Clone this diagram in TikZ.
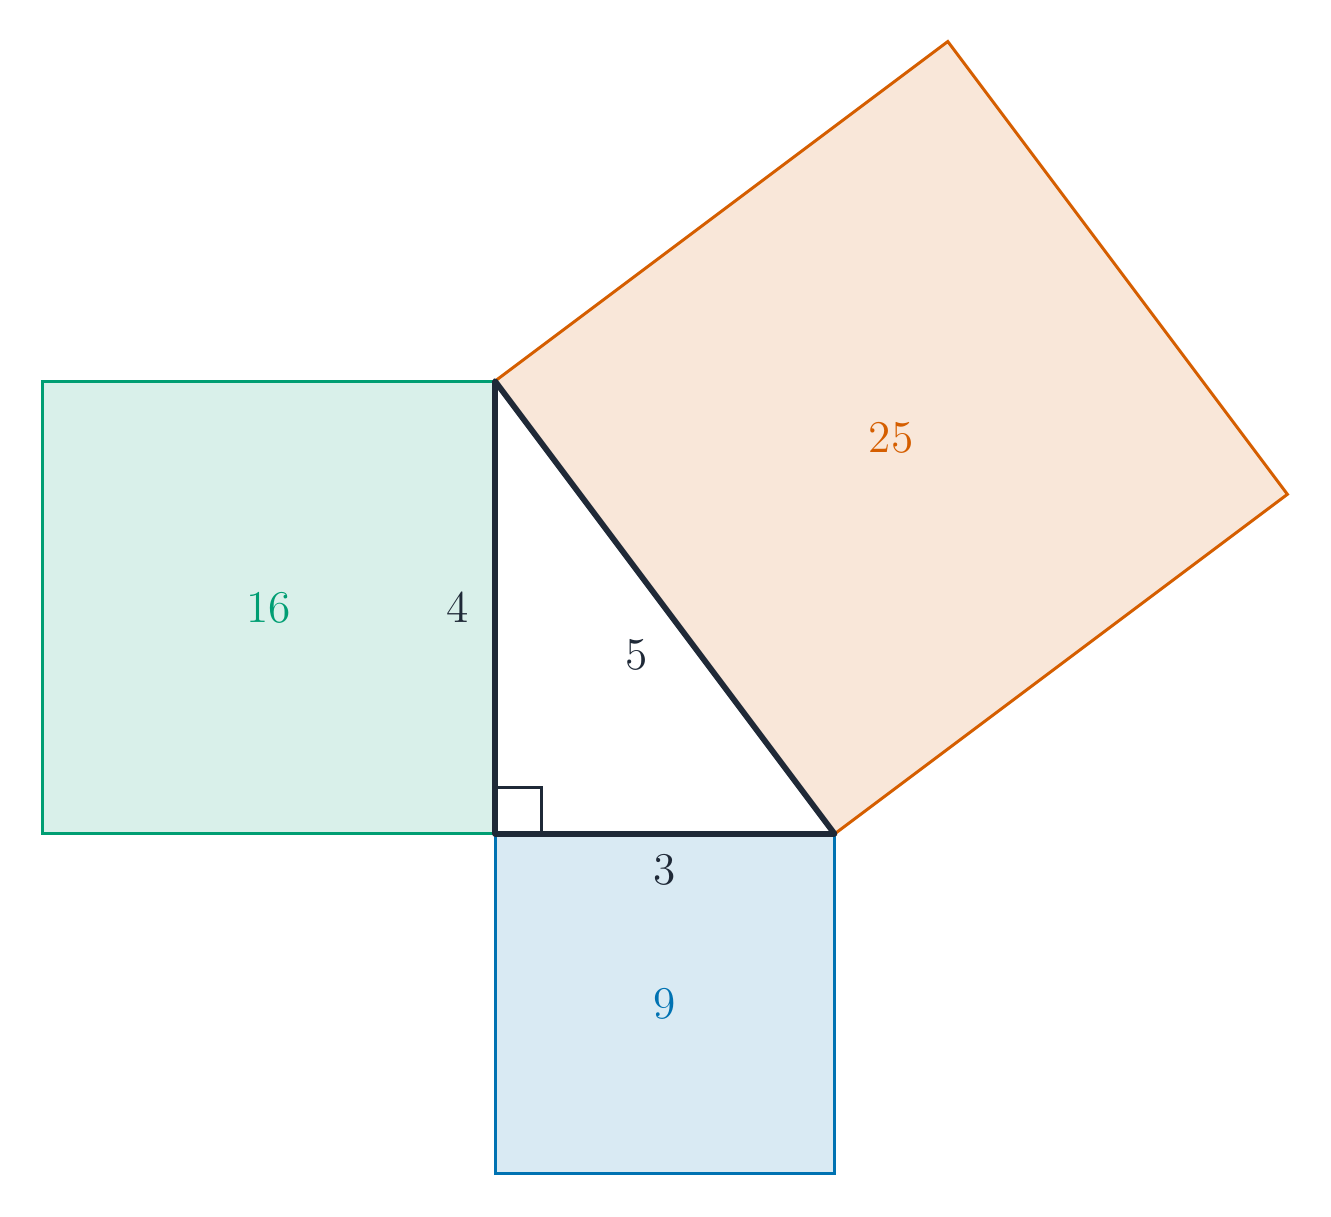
\documentclass[tikz,border=0pt]{standalone}
\usepackage{xcolor}
\usepackage{tikz}
\usetikzlibrary{positioning}
\definecolor{leggreen}{HTML}{009E73}
\definecolor{legblue}{HTML}{0072B2}
\definecolor{hypred}{HTML}{D55E00}
\definecolor{ink}{HTML}{1F2937}
\tikzset{
	font=\fontsize{11.4}{13}\selectfont,
	square/.style={line width=0.75pt, line join=miter},
	side/.style={ink, line width=1.45pt, line join=round},
	rightangle/.style={ink, line width=0.6pt},
	area/.style={text=#1}
}

\begin{document}
\begin{tikzpicture}
	\useasboundingbox (-4.373,-3.383) rectangle (7.385,7.367);
	\coordinate (C) at (0,0);
	\coordinate (B) at (3,0);
	\coordinate (A) at (0,4);
	% squares on the three sides
	\draw[square, leggreen, fill=leggreen!15] (C) -- (A) -- (-4,4) -- (-4,0) -- cycle;
	\draw[square, legblue, fill=legblue!15] (C) -- (B) -- (3,-3) -- (0,-3) -- cycle;
	\draw[square, hypred, fill=hypred!15] (A) -- (4,7) -- (7,3) -- (B) -- cycle;
	% triangle
	\fill[white] (C) -- (B) -- (A) -- cycle;
	\draw[rightangle] (0,0.41) -- (0.41,0.41) -- (0.41,0);
	\draw[side] (C) -- (B) -- (A) -- cycle;
	% labels
	\node[area=leggreen] (s16) at (-2,2) {16};
	\node[area=legblue] (s9) at (1.5,-1.5) {9};
	\node[area=hypred] (s25) at (3.5,3.5) {25};
	\node[text=ink] (l4) at (-0.33,2) {4};
	\node[text=ink] (l3) at (1.5,-0.32) {3};
	\node[text=ink] (l5) at (1.25,1.58) {5};
\end{tikzpicture}
\end{document}
